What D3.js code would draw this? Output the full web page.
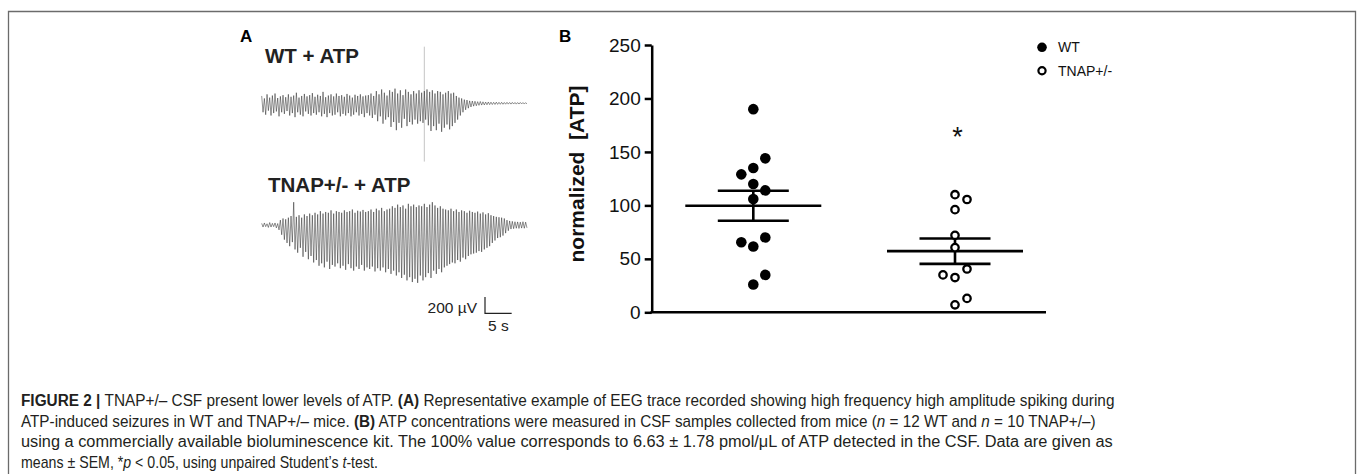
<!DOCTYPE html>
<html>
<head>
<meta charset="utf-8">
<script src="https://cdn.jsdelivr.net/npm/d3@7"></script>
<style>
  html, body { margin: 0; padding: 0; background: #fff; }
  svg text { font-family: "Liberation Sans", Arial, Helvetica, sans-serif; }
</style>
</head>
<body>
<script>
// ---- data ----
const groups = ["WT", "TNAP+/-"];
const wtValues = [190, 144, 135, 129, 120, 114, 106, 70, 65.5, 61.5, 35, 26];
const tnapValues = [110, 105.5, 96, 72, 60.5, 40.5, 35, 32.5, 13, 7];
const yTicks = [0, 50, 100, 150, 200, 250];
const sigMark = "*";

// EEG traces, peak excursions in µV every 0.5 s over 50 s
const traceSeconds = 50;
const wtUp = [90, 60, 110, 70, 95, 120, 65, 85, 100, 75,
  110, 80, 95, 130, 70, 90, 115, 85, 100, 125,
  80, 105, 90, 140, 75, 95, 110, 85, 120, 90,
  100, 80, 115, 95, 70, 105, 90, 110, 85, 95,
  100, 120, 90, 150, 110, 170, 130, 95, 160, 140,
  180, 120, 160, 100, 170, 140, 110, 150, 120, 160,
  130, 150, 170, 140, 160, 120, 150, 140, 110, 130,
  150, 120, 130, 90, 70, 60, 45, 40, 30, 28,
  25, 20, 22, 18, 15, 16, 14, 12, 14, 12,
  12, 10, 12, 10, 11, 10, 9, 10, 9, 8];
const wtDown = [110, 140, 90, 150, 120, 100, 160, 110, 130, 95,
  150, 120, 170, 110, 140, 160, 100, 130, 150, 120,
  140, 110, 160, 130, 170, 120, 150, 140, 110, 160,
  130, 150, 120, 160, 140, 110, 150, 130, 170, 120,
  150, 180, 140, 220, 160, 250, 200, 170, 290, 230,
  330, 240, 300, 190, 280, 230, 260, 200, 250, 220,
  240, 200, 270, 340, 280, 330, 250, 350, 300, 260,
  320, 280, 240, 200, 150, 110, 80, 60, 45, 35,
  30, 25, 22, 20, 18, 16, 15, 14, 13, 12,
  12, 11, 10, 10, 9, 10, 9, 8, 9, 8];
const wtArtifact = [30.5, 695, 715]; // time s, up µV, down µV
const tnapUp = [20, 25, 15, 30, 20, 25, 18, 60, 80, 70,
  90, 110, 280, 100, 120, 90, 130, 110, 140, 120,
  150, 130, 170, 140, 160, 150, 180, 140, 170, 160,
  150, 180, 160, 170, 190, 150, 175, 165, 185, 160,
  170, 190, 160, 200, 180, 210, 170, 190, 200, 230,
  210, 250, 220, 240, 200, 260, 230, 250, 220, 240,
  230, 260, 220, 250, 280, 240, 210, 230, 200, 190,
  180, 200, 170, 190, 160, 180, 170, 150, 175, 160,
  150, 165, 140, 155, 130, 145, 120, 110, 100, 95,
  90, 80, 60, 50, 45, 40, 38, 35, 40, 35];
const tnapDown = [25, 20, 30, 25, 20, 35, 60, 120, 180, 220,
  260, 210, 300, 340, 280, 390, 330, 420, 380, 460,
  430, 500, 470, 520, 450, 540, 490, 510, 470, 530,
  500, 550, 480, 530, 560, 510, 540, 490, 560, 520,
  540, 510, 570, 530, 560, 520, 580, 540, 600, 560,
  620, 580, 650, 610, 680, 640, 700, 660, 710, 620,
  680, 640, 590, 650, 560, 600, 540, 580, 520, 500,
  480, 460, 470, 430, 450, 400, 420, 380, 360, 350,
  340, 320, 330, 300, 280, 260, 220, 190, 160, 150,
  130, 100, 70, 50, 45, 40, 42, 38, 40, 35];
const scaleBar = [200, 5]; // µV, s

const captionLines = [
  [["b", "FIGURE 2 | "], ["", "TNAP+/– CSF present lower levels of ATP. "], ["b", "(A)"], ["", " Representative example of EEG trace recorded showing high frequency high amplitude spiking during"]],
  [["", "ATP-induced seizures in WT and TNAP+/– mice. "], ["b", "(B)"], ["", " ATP concentrations were measured in CSF samples collected from mice ("], ["i", "n"], ["", " = 12 WT and "], ["i", "n"], ["", " = 10 TNAP+/–)"]],
  [["", "using a commercially available bioluminescence kit. The 100% value corresponds to 6.63 ± 1.78 pmol/μL of ATP detected in the CSF. Data are given as"]],
  [["", "means ± SEM, *"], ["i", "p"], ["", " < 0.05, using unpaired Student’s "], ["i", "t"], ["", "-test."]]
];
const captionEnds = [1115, 1097, 1113, 378];

// ---- layout ----
const W = 1360, H = 474;
const svg = d3.select("body").append("svg").attr("width", W).attr("height", H);

// frame
svg.append("path")
  .attr("d", "M8.5,480 V11.5 H1355.5 V480")
  .attr("fill", "none").attr("stroke", "#6b6b6b").attr("stroke-width", 1.3);

// ---- panel A ----
const tx = d3.scaleLinear().domain([0, traceSeconds]).range([261.7, 528.3]);
const pxPerUV = 16.3 / 200;

function tracePath(up, down, base) {
  const dt = traceSeconds / up.length;
  const pts = [];
  up.forEach((u, i) => {
    pts.push([tx(i * dt), base - u * pxPerUV]);
    pts.push([tx(i * dt + dt / 2), base + down[i] * pxPerUV]);
  });
  return d3.line()(pts);
}

const A = svg.append("g");
A.append("text").attr("x", 240).attr("y", 42).attr("font-size", 17).attr("font-weight", "bold").text("A");

A.append("text").attr("x", 265).attr("y", 62.5).attr("font-size", 20.5).attr("font-weight", "bold")
  .attr("fill", "#222").text("WT + ATP");
A.append("text").attr("x", 268).attr("y", 191.5).attr("font-size", 20.5).attr("font-weight", "bold")
  .attr("fill", "#222").text("TNAP+/- + ATP");

const wtBase = 103.3, tnapBase = 225;
A.append("line")
  .attr("x1", tx(wtArtifact[0])).attr("x2", tx(wtArtifact[0]))
  .attr("y1", wtBase - wtArtifact[1] * pxPerUV).attr("y2", wtBase + wtArtifact[2] * pxPerUV)
  .attr("stroke", "#c4c4c4").attr("stroke-width", 1);
A.append("path").attr("d", tracePath(wtUp, wtDown, wtBase))
  .attr("fill", "none").attr("stroke", "#1a1a1a").attr("stroke-width", 0.6).attr("stroke-opacity", 0.8);
A.append("path").attr("d", tracePath(tnapUp, tnapDown, tnapBase))
  .attr("fill", "none").attr("stroke", "#1a1a1a").attr("stroke-width", 0.6).attr("stroke-opacity", 0.8);

// scale bar
const sbX = 485, sbY = 313.3;
A.append("path")
  .attr("d", `M${sbX},${sbY - scaleBar[0] * pxPerUV} V${sbY} H${sbX + tx(scaleBar[1]) - tx(0)}`)
  .attr("fill", "none").attr("stroke", "#222").attr("stroke-width", 1.2);
A.append("text").attr("x", sbX - 8).attr("y", sbY).attr("text-anchor", "end")
  .attr("font-size", 15.5).attr("fill", "#222").text(`${scaleBar[0]} µV`);
A.append("text").attr("x", sbX + (tx(scaleBar[1]) - tx(0)) / 2).attr("y", 330.5).attr("text-anchor", "middle")
  .attr("font-size", 15.5).attr("fill", "#222").text(`${scaleBar[1]} s`);

// ---- panel B ----
const B = svg.append("g");
B.append("text").attr("x", 559).attr("y", 42).attr("font-size", 17).attr("font-weight", "bold").text("B");

const axX = 651.7, axEnd = 1046;
const y = d3.scaleLinear().domain([0, 250]).range([312.3, 45]);
const x = d3.scalePoint().domain(groups).range([753.3, 955]);

const yAxis = B.append("g").attr("transform", `translate(${axX},0)`)
  .call(d3.axisLeft(y).tickValues(yTicks).tickSize(7).tickSizeOuter(0).tickPadding(4));
yAxis.selectAll("path, line").attr("stroke", "#000").attr("stroke-width", 2.5);
yAxis.selectAll("text").attr("font-size", 19).attr("font-family", "'Liberation Sans', Arial, sans-serif").attr("fill", "#111");

B.append("line").attr("x1", axX - 1.25).attr("x2", axEnd).attr("y1", y(0)).attr("y2", y(0))
  .attr("stroke", "#000").attr("stroke-width", 2.5);

B.append("text")
  .attr("transform", `translate(583.5,174) rotate(-90)`)
  .attr("text-anchor", "middle").attr("font-size", 21).attr("font-weight", "bold")
  .style("white-space", "pre").attr("fill", "#111")
  .text("normalized  [ATP]");

const dotR = 5.3, slot = 12;
function dodge(values) {
  const order = d3.range(values.length).sort((a, b) => values[a] - values[b]);
  const placed = [], cols = [];
  order.forEach(i => {
    const yy = y(values[i]);
    const free = c => placed.every(p => p.col !== c || Math.abs(p.y - yy) >= 2 * dotR);
    let col = 0;
    if (!free(0)) {
      let pref = 1;
      const side = placed.filter(p => p.col !== 0);
      if (side.length) {
        const near = d3.least(side, p => Math.abs(p.y - yy));
        if (Math.abs(near.y - yy) < 40) pref = -Math.sign(near.col);
      }
      for (let k = 1; k < 6; k++) {
        if (free(pref * k)) { col = pref * k; break; }
        if (free(-pref * k)) { col = -pref * k; break; }
      }
    }
    placed.push({ y: yy, col });
    cols[i] = col;
  });
  return cols;
}

const sets = [
  { name: groups[0], values: wtValues, filled: true },
  { name: groups[1], values: tnapValues, filled: false }
];

sets.forEach(s => {
  const cx = x(s.name);
  const cols = dodge(s.values);
  const mean = d3.mean(s.values);
  const sem = d3.deviation(s.values) / Math.sqrt(s.values.length);
  const g = B.append("g");
  g.append("line").attr("x1", cx - 68).attr("x2", cx + 68).attr("y1", y(mean)).attr("y2", y(mean))
    .attr("stroke", "#000").attr("stroke-width", 2.6);
  g.append("line").attr("x1", cx).attr("x2", cx).attr("y1", y(mean + sem)).attr("y2", y(mean - sem))
    .attr("stroke", "#000").attr("stroke-width", 2.6);
  [mean + sem, mean - sem].forEach(v => {
    g.append("line").attr("x1", cx - 35.5).attr("x2", cx + 35.5).attr("y1", y(v)).attr("y2", y(v))
      .attr("stroke", "#000").attr("stroke-width", 2.6);
  });
  g.selectAll("circle").data(s.values).enter().append("circle")
    .attr("cx", (d, i) => cx + cols[i] * slot)
    .attr("cy", d => y(d))
    .attr("r", s.filled ? dotR : 3.7)
    .attr("fill", s.filled ? "#000" : "#fff")
    .attr("stroke", "#000")
    .attr("stroke-width", s.filled ? 0 : 2.3);
});

B.append("text").attr("x", x(groups[1]) + 2.5).attr("y", 146).attr("text-anchor", "middle")
  .attr("font-size", 27).attr("fill", "#111").text(sigMark);

// legend
const leg = B.append("g").attr("transform", "translate(1042,47.3)");
sets.forEach((s, i) => {
  const li = leg.append("g").attr("transform", `translate(0,${i * 23.4})`);
  li.append("circle").attr("r", s.filled ? 4.8 : 3.6)
    .attr("fill", s.filled ? "#000" : "#fff").attr("stroke", "#000").attr("stroke-width", s.filled ? 0 : 2.2);
  li.append("text").attr("x", 16).attr("y", 5).attr("font-size", 14).attr("fill", "#111").text(s.name);
});

// ---- caption ----
// condensed look: each line squeezed horizontally so it ends where the reference line ends
const capX = 21;
captionLines.forEach((line, i) => {
  const g = svg.append("g");
  const t = g.append("text").attr("x", 0).attr("y", 0)
    .attr("font-size", 16).attr("fill", "#231f20")
    .style("white-space", "pre");
  line.forEach(([st, str]) => {
    const sp = t.append("tspan").text(str);
    if (st === "b") sp.attr("font-weight", "bold");
    if (st === "i") sp.attr("font-style", "italic");
  });
  const sx = (captionEnds[i] - capX) / t.node().getComputedTextLength();
  g.attr("transform", `translate(${capX},${406 + i * 20.6}) scale(${sx},1)`);
});
</script>
</body>
</html>
